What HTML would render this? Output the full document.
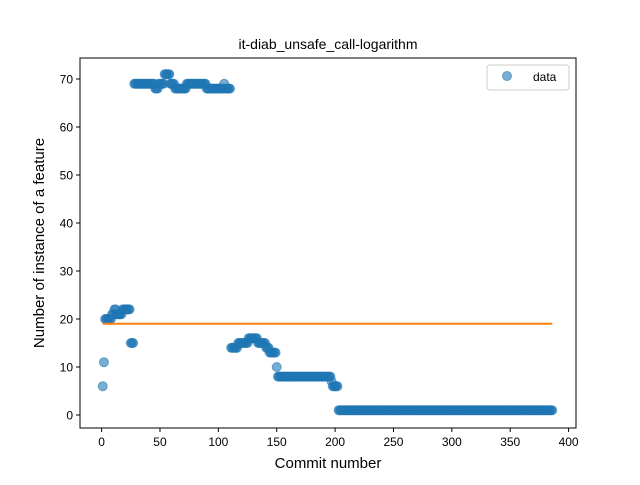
<!DOCTYPE html>
<html><head><meta charset="utf-8"><style>body{margin:0;background:#fff}svg{font-family:"Liberation Sans","DejaVu Sans",sans-serif}</style></head>
<body>
<svg id="c" width="640" height="480" viewBox="0 0 640 480">
<rect x="0" y="0" width="640" height="480" fill="#fff"/>
<text x="328" y="49" font-size="14" text-anchor="middle">it-diab_unsafe_call-logarithm</text>
<g id="plot"></g>
<rect x="80" y="58" width="496" height="370" fill="none" stroke="#000" stroke-width="1"/>
<text x="328" y="468" font-size="15" text-anchor="middle">Commit number</text>
<text transform="translate(44,243) rotate(-90)" font-size="15" text-anchor="middle">Number of instance of a feature</text>
<g>
<rect x="487" y="65" width="82" height="25" rx="3" fill="#fff" stroke="#ccc"/>
<circle cx="507" cy="76" r="4.5" fill="#1f77b4" fill-opacity="0.6" stroke="#1f77b4" stroke-opacity="0.6"/>
<text x="533" y="81" font-size="12">data</text>
</g>
</svg>
<script>
const runValues=[6,11,20,21,22,21,22,15,69,68,69,71,69,68,69,68,69,68,14,15,16,15,14,13,10,8,7,6,1];
const runLengths=[1,1,6,2,2,5,7,3,18,3,5,5,4,10,17,15,1,5,6,9,8,7,3,6,1,46,1,5,184];
const trendValue=19;
const xTicks=[0,50,100,150,200,250,300,350,400];
const yTicks=[0,10,20,30,40,50,60,70];
const NS="http://www.w3.org/2000/svg";
const xs=v=>101.6+v*1.1675;
const ys=v=>415-v*4.8;
const g=document.getElementById('plot');
const svg=document.getElementById('c');
function mk(t,a){const e=document.createElementNS(NS,t);for(const k in a)e.setAttribute(k,a[k]);return e;}
xTicks.forEach(t=>{
 const l=mk('line',{x1:xs(t),x2:xs(t),y1:428,y2:432,stroke:'#000'});
 
 
 svg.appendChild(l);
 const tx=mk('text',{x:xs(t),y:446,'font-size':12,'text-anchor':'middle'});
 tx.textContent=t;
 
 
 svg.appendChild(tx);
});
yTicks.forEach(t=>{
 const l=mk('line',{x1:76,x2:80,y1:ys(t),y2:ys(t),stroke:'#000'});
 
 
 svg.appendChild(l);
 const tx=mk('text',{x:73,y:ys(t)+4.5,'font-size':12,'text-anchor':'end'});
 tx.textContent=t;
 
 
 svg.appendChild(tx);
});
const vals=[];
runValues.forEach((v,i)=>{for(let k=0;k<runLengths[i];k++)vals.push(v);});
vals.forEach((v,i)=>{
 const c=mk('circle',{cx:xs(i+1),cy:ys(v),r:4.5,fill:'#1f77b4','fill-opacity':0.6,stroke:'#1f77b4','stroke-opacity':0.6});
 
 
 g.appendChild(c);
});
const tl=mk('line',{x1:xs(1),x2:xs(vals.length),y1:ys(trendValue),y2:ys(trendValue),stroke:'#ff7f0e','stroke-width':2});


g.appendChild(tl);
</script>
</body></html>
